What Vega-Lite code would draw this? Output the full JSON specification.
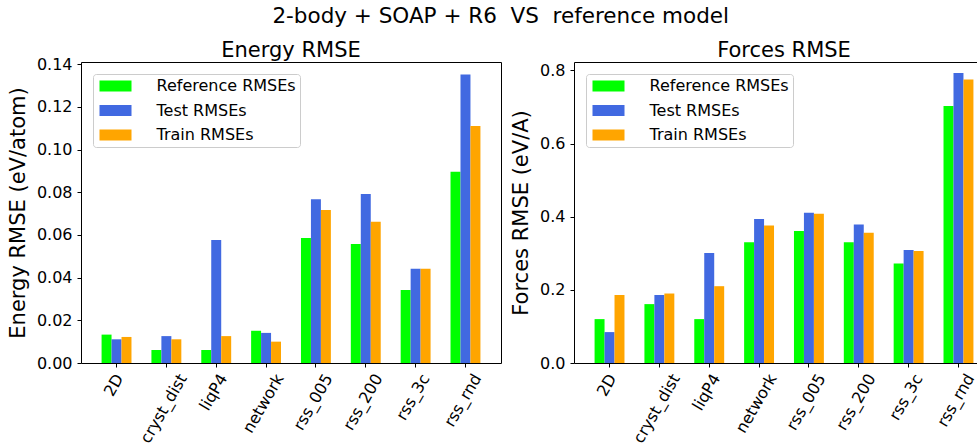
{
  "$schema": "https://vega.github.io/schema/vega-lite/v6.json",
  "background": "white",
  "padding": {"left": 6, "top": 5, "right": 0, "bottom": 0},
  "title": {
    "text": "2-body + SOAP + R6\u00a0 VS\u00a0 reference model",
    "anchor": "middle",
    "offset": 12,
    "fontSize": 21.5
  },
  "config": {
    "font": "DejaVu Sans",
    "view": {"stroke": "#000000", "strokeWidth": 1},
    "title": {"font": "DejaVu Sans", "fontSize": 21, "fontWeight": "normal", "color": "#000000"},
    "axis": {
      "labelFont": "DejaVu Sans",
      "labelFontSize": 16,
      "labelColor": "#000000",
      "titleFont": "DejaVu Sans",
      "titleFontSize": 21,
      "titleFontWeight": "normal",
      "titleColor": "#000000",
      "tickColor": "#000000",
      "tickSize": 4,
      "tickWidth": 1,
      "grid": false,
      "domain": false
    },
    "legend": {
      "labelFont": "DejaVu Sans",
      "labelFontSize": 16,
      "labelColor": "#000000",
      "symbolType": "M-2.91,-1H2.91V1H-2.91Z",
      "symbolSize": 121,
      "symbolOffset": 10.5,
      "symbolStrokeWidth": 0,
      "symbolOpacity": 1,
      "padding": 4,
      "fillColor": "rgba(255,255,255,0.8)",
      "strokeColor": "#cccccc",
      "cornerRadius": 3,
      "labelOffset": 33,
      "rowPadding": 8.5
    }
  },
  "data": {
    "values": [
      {"quantity": "Energy", "system": "2D", "set": "Reference RMSEs", "value": 0.0133},
      {"quantity": "Energy", "system": "2D", "set": "Test RMSEs", "value": 0.0111},
      {"quantity": "Energy", "system": "2D", "set": "Train RMSEs", "value": 0.0122},
      {"quantity": "Energy", "system": "cryst_dist", "set": "Reference RMSEs", "value": 0.0061},
      {"quantity": "Energy", "system": "cryst_dist", "set": "Test RMSEs", "value": 0.0126},
      {"quantity": "Energy", "system": "cryst_dist", "set": "Train RMSEs", "value": 0.0111},
      {"quantity": "Energy", "system": "liqP4", "set": "Reference RMSEs", "value": 0.0061},
      {"quantity": "Energy", "system": "liqP4", "set": "Test RMSEs", "value": 0.0576},
      {"quantity": "Energy", "system": "liqP4", "set": "Train RMSEs", "value": 0.0126},
      {"quantity": "Energy", "system": "network", "set": "Reference RMSEs", "value": 0.0151},
      {"quantity": "Energy", "system": "network", "set": "Test RMSEs", "value": 0.0141},
      {"quantity": "Energy", "system": "network", "set": "Train RMSEs", "value": 0.0100},
      {"quantity": "Energy", "system": "rss_005", "set": "Reference RMSEs", "value": 0.0586},
      {"quantity": "Energy", "system": "rss_005", "set": "Test RMSEs", "value": 0.0767},
      {"quantity": "Energy", "system": "rss_005", "set": "Train RMSEs", "value": 0.0717},
      {"quantity": "Energy", "system": "rss_200", "set": "Reference RMSEs", "value": 0.0557},
      {"quantity": "Energy", "system": "rss_200", "set": "Test RMSEs", "value": 0.0792},
      {"quantity": "Energy", "system": "rss_200", "set": "Train RMSEs", "value": 0.0662},
      {"quantity": "Energy", "system": "rss_3c", "set": "Reference RMSEs", "value": 0.0342},
      {"quantity": "Energy", "system": "rss_3c", "set": "Test RMSEs", "value": 0.0442},
      {"quantity": "Energy", "system": "rss_3c", "set": "Train RMSEs", "value": 0.0442},
      {"quantity": "Energy", "system": "rss_rnd", "set": "Reference RMSEs", "value": 0.0896},
      {"quantity": "Energy", "system": "rss_rnd", "set": "Test RMSEs", "value": 0.1352},
      {"quantity": "Energy", "system": "rss_rnd", "set": "Train RMSEs", "value": 0.1110},
      {"quantity": "Forces", "system": "2D", "set": "Reference RMSEs", "value": 0.120},
      {"quantity": "Forces", "system": "2D", "set": "Test RMSEs", "value": 0.0845},
      {"quantity": "Forces", "system": "2D", "set": "Train RMSEs", "value": 0.186},
      {"quantity": "Forces", "system": "cryst_dist", "set": "Reference RMSEs", "value": 0.161},
      {"quantity": "Forces", "system": "cryst_dist", "set": "Test RMSEs", "value": 0.186},
      {"quantity": "Forces", "system": "cryst_dist", "set": "Train RMSEs", "value": 0.190},
      {"quantity": "Forces", "system": "liqP4", "set": "Reference RMSEs", "value": 0.120},
      {"quantity": "Forces", "system": "liqP4", "set": "Test RMSEs", "value": 0.301},
      {"quantity": "Forces", "system": "liqP4", "set": "Train RMSEs", "value": 0.210},
      {"quantity": "Forces", "system": "network", "set": "Reference RMSEs", "value": 0.330},
      {"quantity": "Forces", "system": "network", "set": "Test RMSEs", "value": 0.394},
      {"quantity": "Forces", "system": "network", "set": "Train RMSEs", "value": 0.376},
      {"quantity": "Forces", "system": "rss_005", "set": "Reference RMSEs", "value": 0.361},
      {"quantity": "Forces", "system": "rss_005", "set": "Test RMSEs", "value": 0.411},
      {"quantity": "Forces", "system": "rss_005", "set": "Train RMSEs", "value": 0.408},
      {"quantity": "Forces", "system": "rss_200", "set": "Reference RMSEs", "value": 0.330},
      {"quantity": "Forces", "system": "rss_200", "set": "Test RMSEs", "value": 0.379},
      {"quantity": "Forces", "system": "rss_200", "set": "Train RMSEs", "value": 0.356},
      {"quantity": "Forces", "system": "rss_3c", "set": "Reference RMSEs", "value": 0.272},
      {"quantity": "Forces", "system": "rss_3c", "set": "Test RMSEs", "value": 0.309},
      {"quantity": "Forces", "system": "rss_3c", "set": "Train RMSEs", "value": 0.306},
      {"quantity": "Forces", "system": "rss_rnd", "set": "Reference RMSEs", "value": 0.703},
      {"quantity": "Forces", "system": "rss_rnd", "set": "Test RMSEs", "value": 0.793},
      {"quantity": "Forces", "system": "rss_rnd", "set": "Train RMSEs", "value": 0.775}
    ]
  },
  "spacing": 8,
  "resolve": {
    "scale": {"x": "independent", "y": "independent", "color": "independent", "xOffset": "independent"},
    "legend": {"color": "independent"}
  },
  "hconcat": [
    {
      "width": 420,
      "height": 301,
      "title": {"text": "Energy RMSE", "offset": -5},
      "transform": [{"filter": "datum.quantity === 'Energy'"}],
      "mark": {"type": "bar"},
      "encoding": {
        "x": {
          "field": "system",
          "type": "nominal",
          "sort": ["2D", "cryst_dist", "liqP4", "network", "rss_005", "rss_200", "rss_3c", "rss_rnd"],
          "scale": {"paddingInner": 0.4, "paddingOuter": 0.4127},
          "axis": {
            "title": null,
            "labelAngle": -60,
            "labelAlign": "right",
            "labelBaseline": "middle",
            "labelPadding": 8,
            "labelOffset": {"expr": "{'2D': 3.1, 'cryst_dist': 16.7, 'liqP4': 7.2, 'network': 13.7, 'rss_005': 12.9, 'rss_200': 12.9, 'rss_3c': 10.1, 'rss_rnd': 12.0}[datum.value]"}
          }
        },
        "xOffset": {
          "field": "set",
          "type": "nominal",
          "sort": ["Reference RMSEs", "Test RMSEs", "Train RMSEs"],
          "scale": {"paddingInner": 0, "paddingOuter": 0}
        },
        "y": {
          "field": "value",
          "type": "quantitative",
          "scale": {"domain": [0, 0.141], "nice": false},
          "axis": {
            "title": "Energy RMSE (eV/atom)",
            "values": [0, 0.02, 0.04, 0.06, 0.08, 0.1, 0.12, 0.14],
            "format": ".2f",
            "labelPadding": 5,
            "titlePadding": 8
          }
        },
        "color": {
          "field": "set",
          "type": "nominal",
          "scale": {"domain": ["Reference RMSEs", "Test RMSEs", "Train RMSEs"], "range": ["#00ff00", "#4169e1", "#ffa500"]},
          "legend": {"title": null, "orient": "top-left", "offset": 12}
        }
      }
    },
    {
      "width": 408,
      "height": 301,
      "title": {"text": "Forces RMSE", "offset": 1.5, "dx": 6},
      "transform": [{"filter": "datum.quantity === 'Forces'"}],
      "mark": {"type": "bar"},
      "encoding": {
        "x": {
          "field": "system",
          "type": "nominal",
          "sort": ["2D", "cryst_dist", "liqP4", "network", "rss_005", "rss_200", "rss_3c", "rss_rnd"],
          "scale": {"paddingInner": 0.4, "paddingOuter": 0.4127, "range": [0, 420]},
          "axis": {
            "title": null,
            "labelAngle": -60,
            "labelAlign": "right",
            "labelBaseline": "middle",
            "labelPadding": 8,
            "labelOffset": {"expr": "{'2D': 3.1, 'cryst_dist': 16.7, 'liqP4': 7.2, 'network': 13.7, 'rss_005': 12.9, 'rss_200': 12.9, 'rss_3c': 10.1, 'rss_rnd': 12.0}[datum.value]"}
          }
        },
        "xOffset": {
          "field": "set",
          "type": "nominal",
          "sort": ["Reference RMSEs", "Test RMSEs", "Train RMSEs"],
          "scale": {"paddingInner": 0, "paddingOuter": 0}
        },
        "y": {
          "field": "value",
          "type": "quantitative",
          "scale": {"domain": [0, 0.823], "nice": false},
          "axis": {
            "title": "Forces RMSE (eV/A)",
            "values": [0, 0.2, 0.4, 0.6, 0.8],
            "format": ".1f",
            "labelPadding": 5,
            "titlePadding": 8
          }
        },
        "color": {
          "field": "set",
          "type": "nominal",
          "scale": {"domain": ["Reference RMSEs", "Test RMSEs", "Train RMSEs"], "range": ["#00ff00", "#4169e1", "#ffa500"]},
          "legend": {"title": null, "orient": "top-left", "offset": 12}
        }
      }
    }
  ]
}
